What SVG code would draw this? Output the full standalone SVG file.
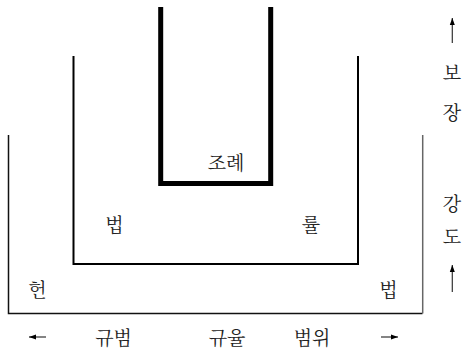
<svg xmlns="http://www.w3.org/2000/svg" width="464" height="353" viewBox="0 0 464 353">
<defs>
<marker id="ah" markerWidth="8" markerHeight="6" refX="7" refY="3" orient="auto" markerUnits="userSpaceOnUse">
<path d="M0,0.5 L7,3 L0,5.5 Z" fill="#000"/>
</marker>
<style>
text{font-family:"Noto Serif CJK KR","Noto Sans CJK KR",sans-serif;font-size:19px;fill:#222;text-anchor:middle}
.u{fill:none;stroke-linejoin:miter;stroke-linecap:butt}
.ar{stroke:#333;stroke-width:1.2;fill:none;marker-end:url(#ah)}
</style>
</defs>
<rect width="464" height="353" fill="#fff"/>
<g id="outer">
<path class="u" d="M8.5,135 V313.5 H422.5" stroke="#111" stroke-width="1.5"/>
<path class="u" d="M422.7,135 V313.5" stroke="#666" stroke-width="1.5"/>
<text x="37.5" y="297">헌</text>
<text x="388.5" y="297">법</text>
</g>
<g id="middle">
<path class="u" d="M73.5,56 V264 H358 V56" stroke="#000" stroke-width="2"/>
<text x="114.5" y="232">법</text>
<text x="311" y="232">률</text>
</g>
<g id="inner">
<path class="u" d="M160.7,7 V183.5 H270.7 V7" stroke="#000" stroke-width="5"/>
<text x="226" y="170">조례</text>
</g>
<g id="axis-x">
<text x="113.5" y="345">규범</text>
<text x="227" y="345">규율</text>
<text x="312" y="345">범위</text>
</g>
<g id="axis-y">
<text x="452" y="80">보</text>
<text x="452" y="120">장</text>
<text x="452" y="211">강</text>
<text x="452" y="244">도</text>
</g>
<g id="connectors">
<line class="ar" x1="46" y1="337" x2="29" y2="337"/>
<line class="ar" x1="381" y1="337" x2="398" y2="337"/>
<line class="ar" x1="452.3" y1="43" x2="452.3" y2="18"/>
<line class="ar" x1="452.3" y1="292" x2="452.3" y2="265"/>
</g>
</svg>
